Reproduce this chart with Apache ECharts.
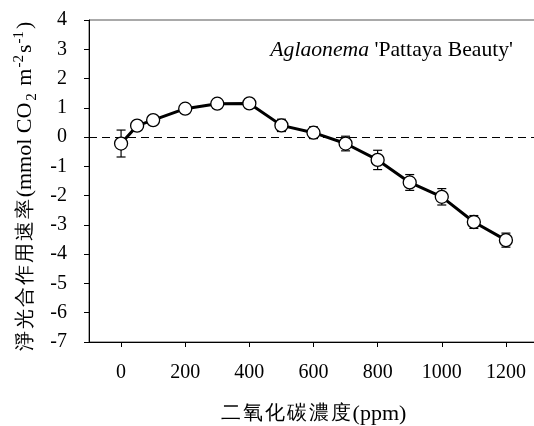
<!DOCTYPE html>
<html><head><meta charset="utf-8">
<script src="https://cdn.jsdelivr.net/npm/echarts@6/dist/echarts.min.js"></script>
<style>html,body{margin:0;padding:0;background:#fff}#c{width:534px;height:426px}</style>
</head><body><div id="c"></div>
<script>
const co2 = [0, 50, 100, 200, 300, 400, 500, 600, 700, 800, 900, 1000, 1100, 1200];
const netRate = [-0.22, 0.39, 0.58, 0.97, 1.14, 1.15, 0.40, 0.15, -0.22, -0.78, -1.55, -2.04, -2.90, -3.52];
const errBar = [0.46, 0.05, 0.05, 0.05, 0.15, 0.07, 0.21, 0.20, 0.25, 0.33, 0.27, 0.28, 0.22, 0.24];
const xTicks = [0, 200, 400, 600, 800, 1000, 1200];
const xTitleCJK = '二氧化碳濃度';
const xTitleUnit = '(ppm)';
const yTitleCJK = '淨光合作用速率';
const annotationItalic = 'Aglaonema';
const annotationRest = " 'Pattaya Beauty'";

const FONT = 'Liberation Serif';
const chart = echarts.init(document.getElementById('c'), null, {renderer: 'canvas'});
const points = co2.map((x, i) => [x, netRate[i]]);
const errData = co2.map((x, i) => [x, netRate[i], errBar[i]]);
const cjkTokens = s => s.split('').map(ch => '{c|' + ch + '}').join('');

const titleRich = {
  c: {fontFamily: FONT, fontSize: 20, color: '#000', lineHeight: 28, verticalAlign: 'middle', padding: [0, 2, 0, 0]},
  a: {fontFamily: FONT, fontSize: 22, color: '#000', lineHeight: 28, verticalAlign: 'middle'},
  sub: {fontFamily: FONT, fontSize: 15, color: '#000', lineHeight: 28, verticalAlign: 'bottom', padding: [0, 2, 0, 2]},
  sup: {fontFamily: FONT, fontSize: 15, color: '#000', lineHeight: 28, verticalAlign: 'top', padding: [0, 2, 0, 1]}
};

chart.setOption({
  animation: false,
  backgroundColor: '#fff',
  grid: {left: 89, top: 20, right: -4, bottom: 84, outerBoundsMode: 'none', containLabel: false,
    show: true, borderColor: '#555', borderWidth: 1, backgroundColor: 'transparent'},
  xAxis: {
    type: 'value', min: -100, max: 1300,
    splitLine: {show: false},
    axisLine: {onZero: false, lineStyle: {color: '#000', width: 1}},
    axisTick: {inside: false, customValues: xTicks, length: 5, lineStyle: {color: '#000'}},
    axisLabel: {customValues: xTicks, margin: 21, fontFamily: FONT, fontSize: 20, color: '#000',
      formatter: v => String(v)},
    name: cjkTokens(xTitleCJK) + '{a|' + xTitleUnit + '}',
    nameLocation: 'middle', nameGap: 58,
    nameTextStyle: {fontFamily: FONT, fontSize: 21, color: '#000', rich: titleRich}
  },
  yAxis: {
    type: 'value', min: -7, max: 4, interval: 1,
    splitLine: {show: false},
    axisLine: {show: true, onZero: false, lineStyle: {color: '#000', width: 1}},
    axisTick: {show: true, inside: false, length: 5, lineStyle: {color: '#000'}},
    axisLabel: {margin: 22, fontFamily: FONT, fontSize: 20, color: '#000', formatter: v => String(v)},
    name: cjkTokens(yTitleCJK) + '{a|(mmol CO}{sub|2}{a| m}{sup|-2}{a|s}{sup|-1}{a|)}',
    nameLocation: 'middle', nameGap: 47, nameRotate: 90,
    nameTextStyle: {fontFamily: FONT, fontSize: 21, color: '#000', rich: titleRich, padding: [0, 11, 0, 0]}
  },
  graphic: [{
    type: 'text', right: 21, top: 39,
    style: {
      text: '{i|' + annotationItalic + '}{n|' + annotationRest + '}',
      rich: {
        i: {fontFamily: FONT, fontSize: 21.7, fontStyle: 'italic', fill: '#000'},
        n: {fontFamily: FONT, fontSize: 21.7, fill: '#000'}
      }
    }
  }],
  series: [
    {
      type: 'custom', z: 2, silent: true,
      data: errData,
      renderItem: function (params, api) {
        const x = api.value(0), y = api.value(1), e = api.value(2);
        const top = api.coord([x, y + e]);
        const bot = api.coord([x, y - e]);
        const w = 4.5;
        const st = {stroke: '#000', lineWidth: 1.2};
        return {type: 'group', children: [
          {type: 'line', shape: {x1: top[0], y1: top[1], x2: bot[0], y2: bot[1]}, style: st},
          {type: 'line', shape: {x1: top[0] - w, y1: top[1], x2: top[0] + w, y2: top[1]}, style: st},
          {type: 'line', shape: {x1: bot[0] - w, y1: bot[1], x2: bot[0] + w, y2: bot[1]}, style: st}
        ]};
      }
    },
    {
      type: 'line', z: 5, data: points,
      symbol: 'circle', symbolSize: 13,
      itemStyle: {color: '#fff', borderColor: '#000', borderWidth: 1.3},
      lineStyle: {color: '#000', width: 3},
      markLine: {
        silent: true, symbol: 'none', z: 1,
        label: {show: false},
        lineStyle: {color: '#000', width: 1, type: [8, 5]},
        data: [{yAxis: 0}]
      }
    }
  ]
});
</script></body></html>
